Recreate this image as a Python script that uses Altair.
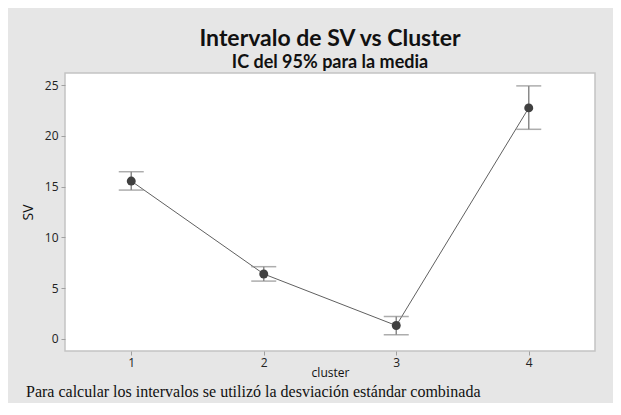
import altair as alt
import pandas as pd

clusters = [1, 2, 3, 4]
means = [15.55, 6.39, 1.31, 22.76]
lower = [14.66, 5.69, 0.40, 20.65]
upper = [16.47, 7.11, 2.20, 24.93]

df = pd.DataFrame({"cluster": clusters, "SV": means, "lo": lower, "hi": upper})

xs = alt.Scale(domain=[0.5, 4.5], nice=False, zero=False)
ys = alt.Scale(domain=[-1.2, 26.2], nice=False, zero=False)

x_axis = alt.Axis(values=clusters, format="d", grid=False, domain=False, tickColor="#a0a0a0",
                  tickSize=4, labelFontSize=12, labelColor="#222222", labelPadding=2,
                  titleFontSize=12, titleFontWeight="normal", titleColor="#111111",
                  titlePadding=-1, labelFont="Open Sans", titleFont="Open Sans")
y_axis = alt.Axis(values=[0, 5, 10, 15, 20, 25], grid=False, domain=False,
                  tickColor="#a0a0a0", tickSize=4, labelFontSize=12,
                  labelColor="#222222", labelPadding=3, titleFontSize=14,
                  titleFontWeight="normal", titleColor="#111111", titlePadding=9,
                  labelFont="Open Sans", titleFont="Open Sans")

base = alt.Chart(df)

line = base.mark_line(color="#606060", strokeWidth=1).encode(
    x=alt.X("cluster:Q", scale=xs, axis=x_axis, title="cluster"),
    y=alt.Y("SV:Q", scale=ys, axis=y_axis, title="SV"),
)
rules = base.mark_rule(color="#8a8a8a", strokeWidth=1.5).encode(
    x="cluster:Q", y="lo:Q", y2="hi:Q"
)
cap_lo = base.mark_tick(orient="horizontal", color="#8a8a8a", size=25, thickness=1.5).encode(
    x="cluster:Q", y="lo:Q"
)
cap_hi = base.mark_tick(orient="horizontal", color="#8a8a8a", size=25, thickness=1.5).encode(
    x="cluster:Q", y="hi:Q"
)
points = base.mark_point(filled=True, color="#404040", size=80, opacity=1).encode(
    x="cluster:Q", y="SV:Q"
)
note = alt.Chart(pd.DataFrame({"t": ["Para calcular los intervalos se utilizó la desviación estándar combinada"]})).mark_text(
    align="left", baseline="middle", font="Liberation Serif", fontSize=16, color="#111111", clip=False
).encode(x=alt.value(-39), y=alt.value(319), text="t:N")

chart = alt.layer(line, rules, cap_lo, cap_hi, points, note).properties(
    width=530,
    height=278,
    autosize=alt.AutoSizeParams(type="none"),
    padding={"left": 57, "top": 65, "right": 18, "bottom": 52},
    background="#e6e6e6",
    title=alt.TitleParams(
        text="Intervalo de SV vs Cluster",
        subtitle="IC del 95% para la media",
        font="Lato", fontSize=23, fontWeight="bold", color="#111111",
        subtitleFont="Lato", subtitleFontSize=18, subtitleFontWeight="bold",
        subtitleColor="#111111", subtitlePadding=3, offset=1, anchor="middle",
    ),
).configure_view(fill="white", stroke="#c4c4c4", strokeWidth=1.5)

chart.save("out.html", embed_options={"renderer": "svg", "actions": False})
